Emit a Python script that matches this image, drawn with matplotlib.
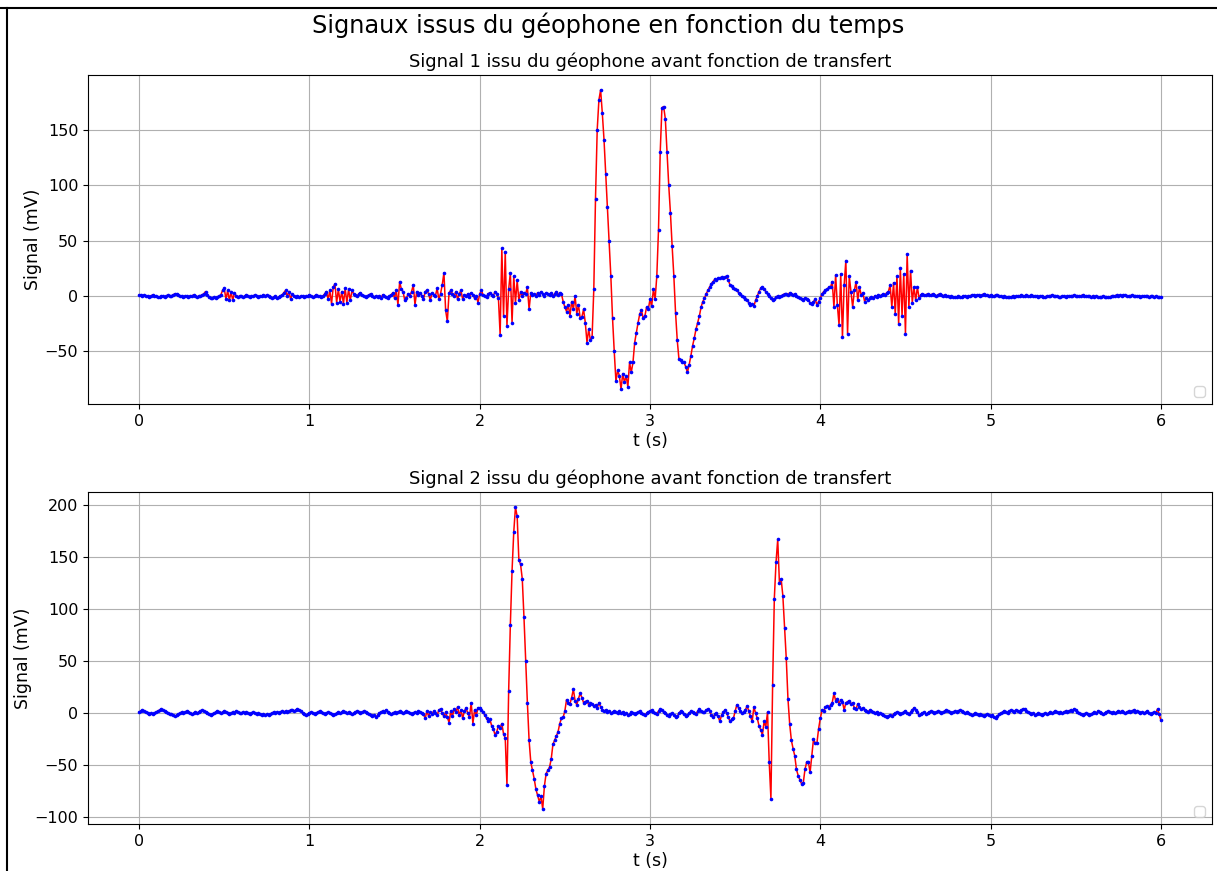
import numpy as np
import matplotlib
matplotlib.use("Agg")
import matplotlib.pyplot as plt
from matplotlib.lines import Line2D

# Sampling step of the recorded geophone signals (s)
dt = 0.01

# Signal 1 (mV), one value every 10 ms from 0 to 6 s
signal_1 = [
    1, 1, 0, 1, 0, 0, -1, 0, 1, 0, 0, -1, -1, 0, 0, -1, 0, 1, 0, 0,
    1, 2, 2, 1, 0, 0, -1, 0, 0, -1, 0, 0, 1, 0, -1, 0, 0, 1, 2, 4,
    1, -1, -2, -2, -1, -2, -1, 0, 1, 5, 7, -3, 5, -4, 4, -4, 3, 0, -1, 0,
    0, -1, 0, 1, 0, -1, 0, 0, 1, 0, -1, 0, 0, 1, 0, 1, 0, -1, -2, -1,
    0, -2, -1, 0, 1, 3, 5, 0, 4, -3, 2, 0, -1, 0, -1, 0, 0, -1, 0, 0,
    1, 0, -1, 0, 1, 0, 0, -1, 0, 2, 4, -3, 5, -7, 8, 11, -6, 6, -5, 4,
    -7, 7, -6, 6, -4, 5, 2, 1, 0, 2, 3, 1, 0, -1, 0, 1, 2, 0, -1, 0,
    -1, 0, -2, 1, 0, -1, -2, 0, 1, 3, -2, 5, -8, 13, 6, 4, -4, -2, 2, 0,
    4, 10, -8, 4, 1, 3, 0, -3, 4, 5, 2, -4, 3, 1, 0, 7, -3, 2, 10, 21,
    -13, -23, 3, 5, 2, 0, 4, -3, 2, 5, -3, 1, 0, 2, -1, 3, 1, -2, 0, -6,
    2, 5, 1, 0, -1, 2, 3, 1, 0, 4, 2, -2, -35, 43, -18, 40, -27, 6, 21, -24,
    18, -6, 14, -4, 4, 0, 3, 2, 8, -12, 3, 1, 2, 0, 3, 1, 4, 2, 0, 3,
    2, 1, 3, 0, 2, 4, 1, 3, 2, -5, -10, -14, -8, -18, -5, -12, 0, -16, -8, -20,
    -19, -12, -24, -42, -30, -40, -37, 6, 88, 150, 177, 186, 165, 141, 110, 80, 50, 18, -20, -50,
    -77, -67, -72, -84, -70, -78, -72, -82, -60, -69, -60, -42, -33, -24, -16, -13, -20, -18, -10, -12,
    -3, -9, 6, -3, 18, 60, 130, 170, 171, 160, 130, 100, 75, 45, 18, -15, -40, -57, -58, -60,
    -60, -64, -69, -62, -54, -45, -38, -30, -24, -18, -10, -5, -2, 2, 5, 8, 11, 13, 15, 14,
    16, 16, 17, 16, 17, 18, 14, 10, 9, 7, 6, 5, 3, 2, 0, -1, -3, -4, -6, -8,
    -7, -9, -4, 0, 4, 7, 8, 6, 4, 2, 0, -2, -4, -3, -1, 0, -1, 0, 1, 2,
    2, 1, 3, 2, 1, 2, 0, -1, -2, -3, -4, -2, -3, -4, -6, -7, -5, -3, -8, -5,
    -2, 2, 4, 5, 6, 8, 8, 13, -10, 19, -8, -26, 20, -37, 10, 32, -34, 18, 4, -10,
    5, 13, -4, 8, 1, 3, -5, -2, -4, -2, -1, -2, 0, -1, 1, 0, 1, 2, 1, 3,
    4, 10, -10, 12, -16, 18, -25, 25, -18, 20, -34, 38, -10, 23, -6, 8, -4, 8, -2, 1,
    2, 1, 1, 2, 1, 1, 2, 1, 0, 1, 2, 1, 0, 1, 0, 0, -1, 0, -1, -1,
    -1, 0, -1, -1, 0, 0, -1, 0, 0, 1, 1, 0, 1, 1, 0, 1, 2, 1, 1, 0,
    1, 0, 0, 1, 1, 0, 0, -1, 0, -1, -1, -1, -1, 0, -1, 0, 0, 0, 1, 0,
    0, 1, 0, 0, 1, 0, 0, 0, -1, 0, 0, -1, -1, 0, 0, 0, 1, 0, 0, 0,
    -1, -1, 0, 0, -1, 0, 0, 0, 0, 1, 0, 0, 0, 0, 1, 0, 0, 0, 0, -1,
    0, -1, 0, -1, -1, -1, 0, -1, -1, -1, -1, 0, 0, 0, 1, 0, 1, 0, 1, 1,
    0, 0, 0, 1, 0, 0, 0, 0, -1, 0, 0, 0, 0, -1, 0, 0, -1, 0, -1, -1,
    -1,
]

# Signal 2 (mV), same sampling
signal_2 = [
    1, 2, 3, 2, 1, 0, -1, 0, -1, 0, 1, 2, 3, 4, 3, 2, 1, 0, -1, -1,
    -2, -3, -2, -1, 0, 1, 0, 1, 2, 1, 0, -1, 0, 1, 0, 1, 2, 3, 2, 1,
    0, -1, -2, -1, 0, 1, 2, 1, 0, 1, 2, 1, 0, -1, 0, 1, 0, 2, 1, 0,
    0, 1, 0, 1, 0, -1, 0, 1, 0, -1, 0, -1, -2, -1, -2, -1, -2, -1, 0, 1,
    0, 1, 0, 1, 2, 1, 2, 1, 2, 3, 3, 2, 3, 4, 3, 2, 0, -1, -2, -1,
    0, 1, 0, -1, 0, 1, 2, 1, 0, -1, 0, 1, 0, -1, -2, -1, 0, 1, 0, 1,
    2, 1, 0, 1, 0, -1, 0, 1, 2, 1, 0, 1, 2, 1, 0, -1, -2, -3, -2, -4,
    -2, 0, 1, 2, 1, 3, 1, 0, -1, 0, 1, 0, 1, 2, 1, 0, 1, 2, 1, 0,
    -1, 0, 1, 0, 2, 1, 0, -1, -5, 2, -3, 1, -1, 2, 0, -2, 3, 4, 0, -3,
    1, -4, -9, 2, -3, 4, 1, 6, -2, 3, -5, 2, 5, 0, -4, 10, -10, 3, -2, 5,
    5, 3, 1, -2, -5, -8, -6, -12, -15, -21, -18, -12, -14, -10, -20, -24, -69, 21, 85, 137,
    174, 198, 189, 147, 143, 129, 92, 50, 10, -26, -47, -55, -63, -73, -79, -85, -80, -92, -70, -58,
    -55, -52, -44, -30, -26, -22, -18, -10, -5, -4, 2, 13, 10, 9, 15, 23, 12, 8, 14, 19,
    15, 10, 11, 12, 8, 10, 9, 7, 8, 5, 10, 6, 3, 2, 3, 1, 2, 0, 1, 2,
    1, 0, 2, 0, 1, -1, 0, -2, -1, 1, 0, -1, 0, 1, 2, 0, -1, -2, 0, 1,
    2, 3, 1, 0, -1, 2, 4, 3, 1, 0, -2, -3, -1, 0, -2, -4, -3, 0, 2, 1,
    -1, -3, -2, 0, 2, 1, 0, -1, 2, 4, 2, 1, 1, 3, 4, 2, -2, -4, -1, 0,
    -3, -8, -2, 1, 3, 0, -4, -8, -6, -5, 2, 8, 5, 2, 0, 1, 3, 7, 2, -3,
    -8, 6, 0, -5, -12, -16, -21, -8, -13, 1, -47, -82, 27, 110, 145, 167, 125, 129, 113, 82,
    53, 14, -10, -26, -34, -41, -54, -60, -64, -68, -67, -54, -47, -47, -57, -41, -25, -29, -29, -15,
    -5, 3, 2, 6, 7, 5, 8, 10, 19, 12, 14, 9, 13, 11, 3, 10, 11, 12, 9, 10,
    5, 4, 9, 6, 4, 5, 3, 2, 1, 3, 2, 1, 0, 1, -1, 0, -1, -2, -3, -4,
    -3, -2, -3, -1, 0, 1, 0, -1, 0, 1, 2, 0, -1, 1, 3, 5, 3, 1, -2, -1,
    0, 1, -1, 0, 1, 2, 1, 0, 1, 2, 1, 0, 1, 2, 3, 2, 1, 0, 1, 2,
    1, 2, 3, 2, 1, 0, 1, 0, -1, -2, -1, 0, -1, -2, -1, -2, -3, -2, -1, -2,
    -3, -2, -4, -5, -3, -1, 0, 1, 2, 1, 0, 2, 3, 2, 1, 3, 2, 1, 3, 4,
    4, 2, 1, 0, -1, 0, -2, -1, 0, -1, -2, -1, 0, -1, 0, 1, 0, 1, 2, 1,
    0, 1, 0, 1, 2, 1, 2, 3, 2, 4, 3, 1, 0, -1, -2, -1, 0, -1, -2, -1,
    0, 1, 0, 2, 1, 0, -1, 0, 1, 2, 1, 0, 1, 0, 1, 2, 1, 2, 1, 0,
    1, 2, 1, 2, 3, 1, 2, 1, 0, 1, 0, 1, 2, 0, -1, 0, 1, 0, 4, -1,
    -7,
]

titles = [
    "Signal 1 issu du géophone avant fonction de transfert",
    "Signal 2 issu du géophone avant fonction de transfert",
]
suptitle = "Signaux issus du géophone en fonction du temps"

W, H = 1217, 871
fig = plt.figure(figsize=(W / 100, H / 100), dpi=100)

# axes boxes in pixels: (left, top, right, bottom)
boxes = [(88, 75, 1212, 404), (88, 492, 1212, 824)]

for sig, title, (l, t, r, b) in zip([signal_1, signal_2], titles, boxes):
    sig = np.asarray(sig, dtype=float)
    time = np.arange(len(sig)) * dt
    ax = fig.add_axes([l / W, 1 - b / H, (r - l) / W, (b - t) / H])
    ax.plot(time, sig, color="red", lw=1.1, zorder=2)
    ax.plot(time, sig, ls="none", marker="o", ms=2.6, mew=0,
            color="blue", zorder=3)
    ax.grid(True)
    ax.set_axisbelow(True)
    ax.set_title(title, fontsize=12.9)
    ax.set_xlabel("t (s)", fontsize=12.5, labelpad=2)
    ax.set_ylabel("Signal (mV)", fontsize=12.5, labelpad=2)
    ax.tick_params(labelsize=11.5)
    ax.legend(handles=[], loc="lower right")

fig.suptitle(suptitle, fontsize=17.3, y=1 - 25 / H, va="center")

# frame lines along the top and left edges
fig.add_artist(Line2D([0, 1], [1 - 8 / H, 1 - 8 / H], color="black", lw=1.5,
                      transform=fig.transFigure))
fig.add_artist(Line2D([7 / W, 7 / W], [0, 1 - 8 / H], color="black", lw=1.5,
                      transform=fig.transFigure))

fig.savefig("out.png", dpi=100)
